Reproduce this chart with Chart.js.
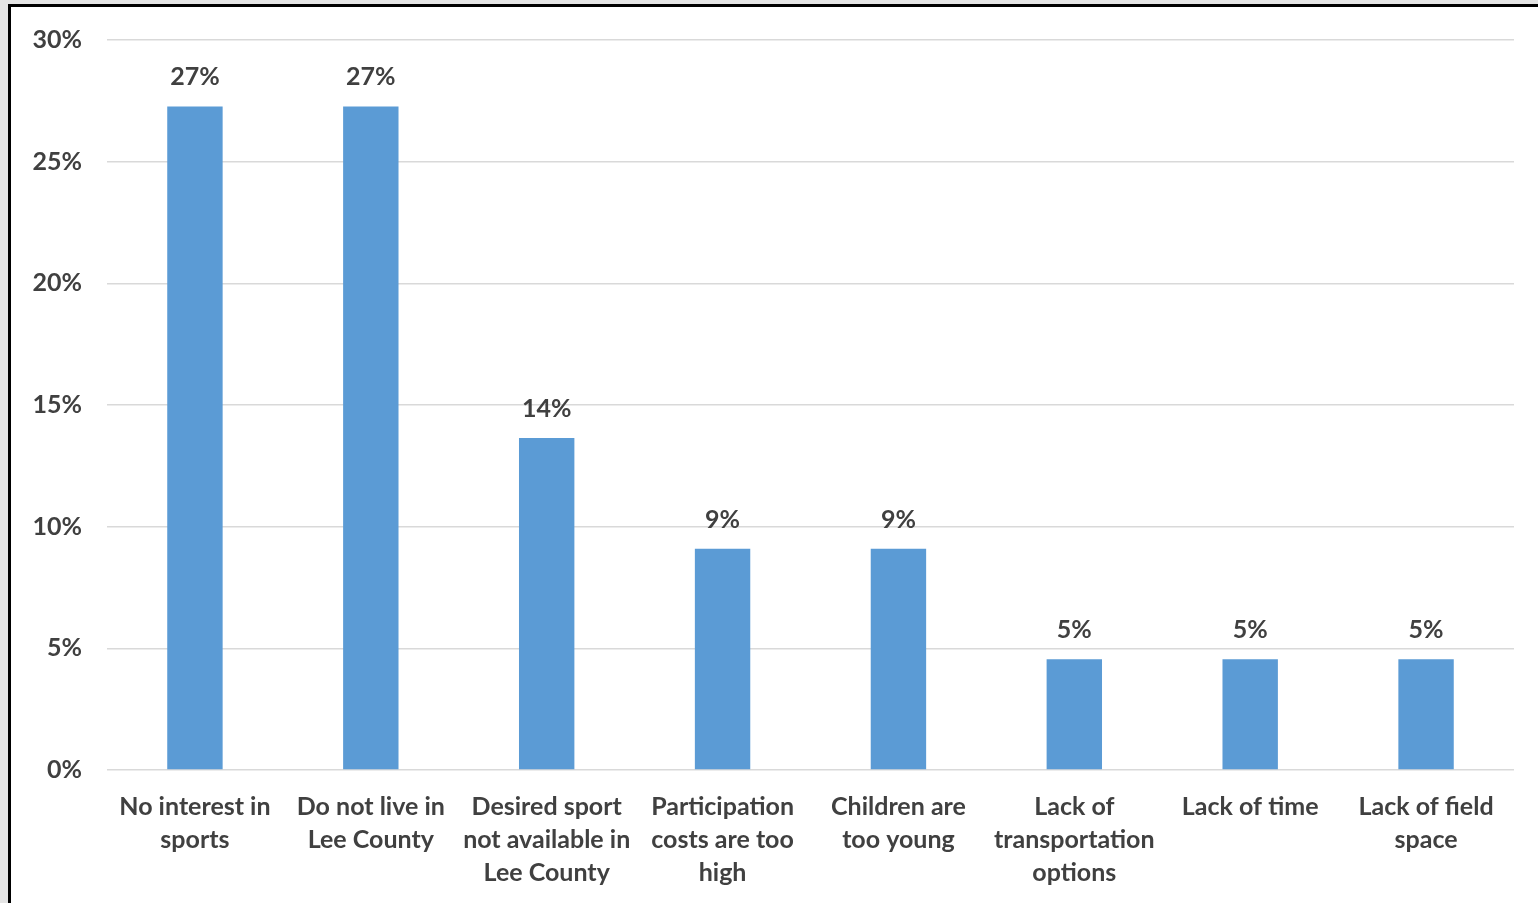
<!DOCTYPE html>
<html>
<head>
<meta charset="utf-8">
<script src="https://cdn.jsdelivr.net/npm/chart.js@4"></script>
<style>
  html, body { margin: 0; padding: 0; background: #e4e4e4; overflow: hidden; }
  #frame {
    position: absolute; left: 8px; top: 4px;
    width: 1530px; height: 899px;
    border-left: 3px solid #000; border-top: 3px solid #000;
    background: #fff;
  }
  #chartBox { position: relative; width: 1527px; height: 896px; }
</style>
</head>
<body>
<div id="frame"><div id="chartBox"><canvas id="reasonsChart"></canvas></div></div>
<script>
const categories = [
    ['No interest in', 'sports'],
    ['Do not live in', 'Lee County'],
    ['Desired sport', 'not available in', 'Lee County'],
    ['Participation', 'costs are too', 'high'],
    ['Children are', 'too young'],
    ['Lack of', 'transportation', 'options'],
    ['Lack of time'],
    ['Lack of field', 'space']
];
const percentValues = [27.27, 27.27, 13.64, 9.09, 9.09, 4.55, 4.55, 4.55];
const yTicks = [0, 5, 10, 15, 20, 25, 30];

const textColor = '#404040';
const fontFamily = 'Lato, "Open Sans", sans-serif';

// draws the rounded % above each bar
const barLabels = {
    id: 'barLabels',
    afterDatasetsDraw(chart) {
        const c = chart.ctx;
        const meta = chart.getDatasetMeta(0);
        c.save();
        c.font = 'bold 25px ' + fontFamily;
        c.fillStyle = textColor;
        c.textAlign = 'center';
        c.textBaseline = 'alphabetic';
        meta.data.forEach((bar, i) => {
            c.fillText(Math.round(percentValues[i]) + '%', bar.x, bar.y - 21);
        });
        c.restore();
    }
};

const ctx = document.getElementById('reasonsChart').getContext('2d');
const reasonsChart = new Chart(ctx, {
    type: 'bar',
    data: {
        labels: categories,
        datasets: [{
            data: percentValues,
            backgroundColor: '#5B9BD5',
            categoryPercentage: 1,
            barPercentage: 0.315
        }]
    },
    options: {
        responsive: true,
        maintainAspectRatio: false,
        animation: false,
        layout: { padding: { top: 33, right: 24, left: 0, bottom: 0 } },
        plugins: {
            legend: { display: false },
            tooltip: { enabled: false }
        },
        scales: {
            x: {
                grid: { display: false },
                border: { display: false },
                ticks: {
                    color: textColor,
                    font: { family: fontFamily, size: 25, weight: 'bold', lineHeight: 1.32 },
                    padding: 12,
                    maxRotation: 0,
                    autoSkip: false
                },
                afterFit(scale) { scale.height = 133; }
            },
            y: {
                min: 0,
                max: 30,
                afterBuildTicks(scale) { scale.ticks = yTicks.map(v => ({ value: v })); },
                grid: { color: '#d9d9d9', lineWidth: 1.5, drawTicks: false },
                border: { display: false },
                ticks: {
                    color: textColor,
                    font: { family: fontFamily, size: 25, weight: 'bold', lineHeight: 0.6 },
                    padding: 25,
                    callback: v => v + '%'
                },
                afterFit(scale) { scale.width = 96; }
            }
        }
    },
    plugins: [barLabels]
});
</script>
</body>
</html>
